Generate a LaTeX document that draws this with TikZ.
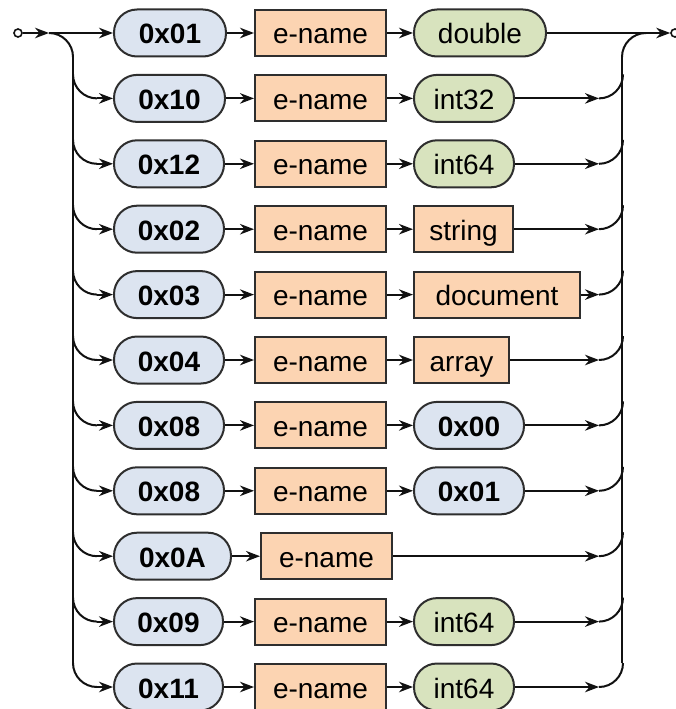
\documentclass[tikz,border=0pt]{standalone}
\usepackage{fontspec}
\setmainfont{Liberation Sans}
\usetikzlibrary{arrows.meta}
\definecolor{ln}{HTML}{111111}
\definecolor{bd}{HTML}{2E2E2E}
\definecolor{pblue}{HTML}{DCE4F0}
\definecolor{ppeach}{HTML}{FCD4B2}
\definecolor{pgreen}{HTML}{D8E3BE}
\tikzset{
  x=1pt, y=1pt,
  every node/.style={font=\fontsize{28}{31}\selectfont, inner sep=0pt,
    text height=22pt, text depth=0pt, anchor=west},
  base/.style={draw=bd, line width=2pt},
  bpill/.style={base, fill=pblue, rounded corners=23pt, minimum height=47pt,
    font=\fontsize{28}{31}\selectfont\bfseries},
  gpill/.style={base, fill=pgreen, rounded corners=23pt, minimum height=47pt},
  tbox/.style={base, fill=ppeach, minimum height=46pt},
  term/.style={circle, draw=ln, fill=white, line width=1.6pt, minimum size=8pt,
    text height=0pt, anchor=center},
  wire/.style={draw=ln, line width=2pt},
  arr/.style={wire, -{Stealth[length=14pt, width=10.5pt, inset=4.5pt]}},
}
\begin{document}
\begin{tikzpicture}
\useasboundingbox (0,0) rectangle (675,-709);

% entry and exit terminals
\node[term] (src) at (18,-33) {};
\node[term] (snk) at (675,-33) {};
\coordinate (bL) at (49,-33);
\draw[arr] (src) -- (bL);

% rows: type byte, element name, value
\foreach \i/\code/\cw/\lab/\lw/\kind in {
  1/0x01/112/double/132/gpill,
  2/0x10/111/int32/100/gpill,
  3/0x12/110/int64/100/gpill,
  4/0x02/110/string/99/tbox,
  5/0x03/110/document/166/tbox,
  6/0x04/110/array/95/tbox,
  7/0x08/110/0x00/110/bpill,
  8/0x08/110/0x01/110/bpill,
  10/0x09/109/int64/100/gpill,
  11/0x11/109/int64/100/gpill}{
  \pgfmathsetmacro\yy{33+(\i-1)*65.4}
  \node[bpill, minimum width=\cw pt] (k\i) at (113,-\yy) {\code};
  \node[tbox, minimum width=131pt] (n\i) at (254,-\yy) {e-name};
  \node[\kind, minimum width=\lw pt] (v\i) at (413,-\yy) {\lab};
  \draw[arr] (k\i) -- (n\i);
  \draw[arr] (n\i) -- (v\i);
}

% row without a value
\pgfmathsetmacro\yn{33+8*65.4}
\node[bpill, minimum width=117pt] (k9) at (113,-\yn) {0x0A};
\node[tbox, minimum width=131pt] (n9) at (260,-\yn) {e-name};
\draw[arr] (k9) -- (n9);

% first row: straight through
\draw[arr] (bL) -- (k1);
\draw[arr] (v1) -- (snk);

% left split and right join rails
\pgfmathsetmacro\ylast{33+10*65.4-24}
\coordinate (lt) at (73,-57);
\coordinate (lb) at (73,-\ylast);
\coordinate (rt) at (622,-57);
\coordinate (rb) at (622,-\ylast);
\draw[wire] (bL) arc[start angle=90, end angle=0, radius=24];
\draw[wire] (lt) -- (lb);
\draw[wire] (rt) arc[start angle=180, end angle=90, radius=24];
\draw[wire] (rt) -- (rb);

% branches into and out of each row below the first
\foreach \i in {2,...,11}{
  \pgfmathsetmacro\yy{33+(\i-1)*65.4}
  \coordinate (lv\i) at (73,-\yy+24);
  \coordinate (lh\i) at (97,-\yy);
  \coordinate (rh\i) at (599,-\yy);
  \draw[wire] (lv\i) arc[start angle=180, end angle=270, radius=24];
  \draw[arr] (lh\i) -- (k\i);
  \draw[wire] (rh\i) arc[start angle=270, end angle=360, radius=24];
}
\foreach \i in {2,...,8,10,11}{
  \draw[arr] (v\i) -- (rh\i);
}
\draw[arr] (n9) -- (rh9);
\end{tikzpicture}
\end{document}
